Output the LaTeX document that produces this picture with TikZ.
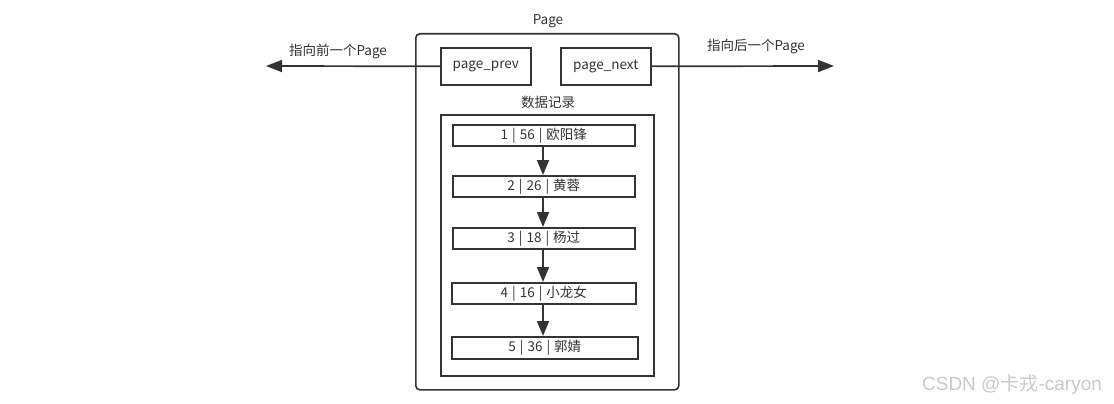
\documentclass[tikz,border=0pt]{standalone}
\usepackage{fontspec}
\setmainfont{Noto Sans CJK SC}
\newfontfamily\wmfont{Liberation Sans}
\newfontfamily\wmcjk{Noto Sans CJK SC}
\usetikzlibrary{arrows.meta}
\definecolor{ink}{HTML}{333333}
\definecolor{wm}{HTML}{C8C8C8}
\newcommand{\vsep}{\hspace{4pt}|\hspace{4pt}}
\begin{document}
\begin{tikzpicture}[x=1pt,y=-1pt,
  box/.style={draw=ink,line width=1.6pt,fill=white,inner sep=0pt,anchor=north west},
  lbl/.style={text=ink,font=\fontsize{13.5}{15}\selectfont,inner sep=0pt},
  conn/.style={draw=ink,line width=1.7pt,-{Triangle[length=16pt,width=12pt]}},
  vconn/.style={draw=ink,line width=1.7pt,-{Triangle[length=15pt,width=12pt]}}]
\useasboundingbox (0,0) rectangle (1114,404);
\node[box,rounded corners=4pt,minimum width=263pt,minimum height=356pt] (page) at (415,33) {};
\node[lbl] (pagelbl) at (548,21) {Page};
\node[box,minimum width=90pt,minimum height=37pt] (prev) at (440,47) {};
\node[lbl] at (prev.center) {page\_prev};
\node[box,minimum width=90pt,minimum height=37pt] (next) at (560,47) {};
\node[lbl] at (next.center) {page\_next};
\coordinate (lend) at (266,66);
\coordinate (rend) at (834,66);
\draw[conn] (prev.west) -- (lend);
\draw[conn] (next.east) -- (rend);
\node[lbl] (ltxt) at (338,51) {指向前一个Page};
\node[lbl] (rtxt) at (756,47) {指向后一个Page};
\node[lbl] (datalbl) at (548,102) {数据记录};
\node[box,minimum width=213pt,minimum height=261pt] (inner) at (440,114) {};
\node[box,minimum width=182pt,minimum height=21pt] (r1) at (452,124) {};
\node[lbl] at (r1.center) {1\vsep 56\vsep 欧阳锋};
\node[box,minimum width=182pt,minimum height=21pt] (r2) at (452,175) {};
\node[lbl] at (r2.center) {2\vsep 26\vsep 黄蓉};
\node[box,minimum width=182pt,minimum height=21pt] (r3) at (452,227) {};
\node[lbl] at (r3.center) {3\vsep 18\vsep 杨过};
\node[box,minimum width=184pt,minimum height=21pt] (r4) at (451,282) {};
\node[lbl] at (r4.center) {4\vsep 16\vsep 小龙女};
\node[box,minimum width=186pt,minimum height=22pt] (r5) at (451,336) {};
\node[lbl] at (r5.center) {5\vsep 36\vsep 郭婧};
\draw[vconn] (r1.south -| 543,0) -- (r2.north -| 543,0);
\draw[vconn] (r2.south -| 543,0) -- (r3.north -| 543,0);
\draw[vconn] (r3.south -| 543,0) -- (r4.north -| 543,0);
\draw[vconn] (r4.south -| 543,0) -- (r5.north -| 543,0);
\node[text=wm,font=\wmfont\fontsize{19}{21}\selectfont,inner sep=0pt] (wmk) at (1012,384) {CSDN @{\wmcjk 卡戎}-caryon};
\end{tikzpicture}
\end{document}
